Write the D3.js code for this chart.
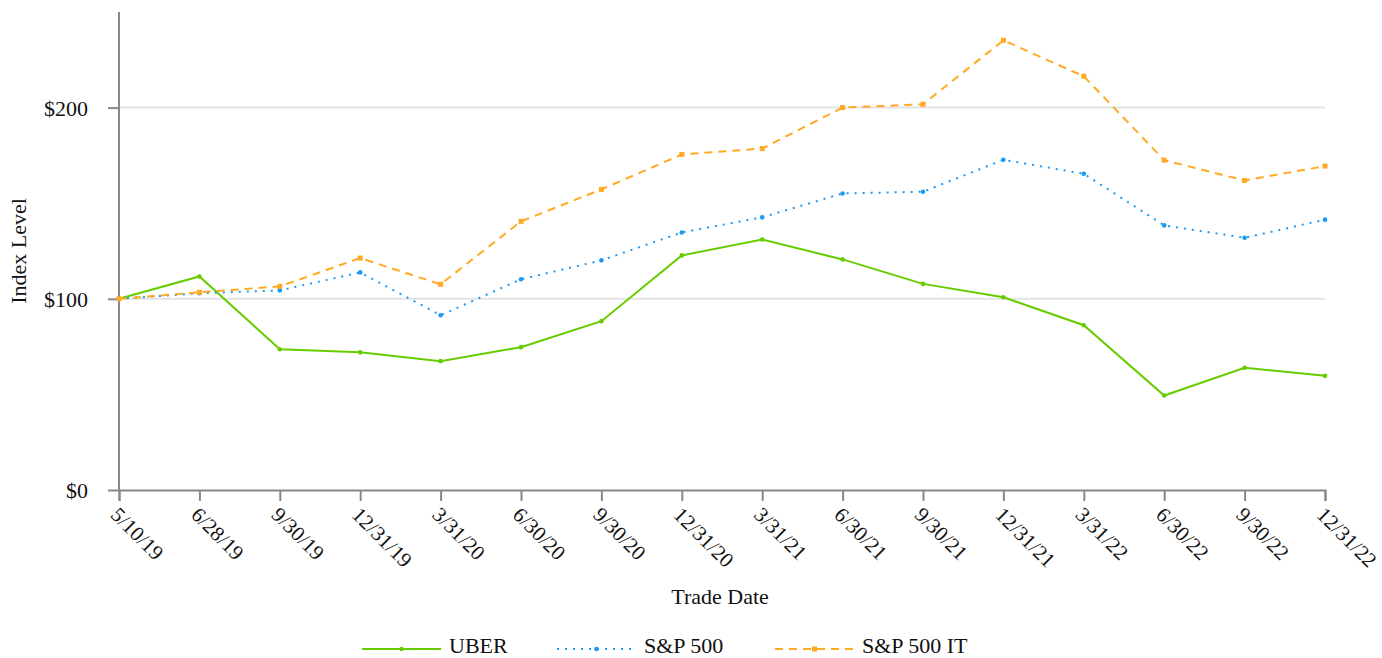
<!DOCTYPE html>
<html>
<head>
<meta charset="utf-8">
<script src="https://cdn.jsdelivr.net/npm/d3@7"></script>
<style>
  body { margin: 0; background: #fff; }
  svg text { font-family: "Liberation Serif", "Times New Roman", serif; fill: #111; }
</style>
</head>
<body>
<div id="chart"></div>
<script>
var dates = ["5/10/19", "6/28/19", "9/30/19", "12/31/19", "3/31/20", "6/30/20", "9/30/20", "12/31/20",
             "3/31/21", "6/30/21", "9/30/21", "12/31/21", "3/31/22", "6/30/22", "9/30/22", "12/31/22"];
var uber  = [100, 111.7, 73.6, 72.0, 67.4, 74.7, 88.3, 122.7, 131.0, 120.6, 107.8, 100.8, 86.2, 49.4, 63.9, 59.7];
var sp500 = [100, 102.9, 104.4, 113.8, 91.4, 110.2, 120.1, 134.7, 142.6, 155.1, 156.0, 172.7, 165.4, 138.4, 131.9, 141.4];
var spIT  = [100, 103.4, 106.5, 121.3, 107.6, 140.5, 157.2, 175.5, 178.6, 200.0, 201.7, 235.2, 216.4, 172.5, 161.9, 169.4];
var yTicks = [0, 100, 200];

var series = [
  {name: "UBER", values: uber, color: "#66cc00", dash: null, marker: "circle"},
  {name: "S&P 500", values: sp500, color: "#1a9af5", dash: "2,6", marker: "circle"},
  {name: "S&P 500 IT", values: spIT, color: "#ffaa22", dash: "8,6", marker: "square"}
];

var W = 1382, H = 658;
var margin = {top: 12, right: 57, bottom: 168, left: 119},
    width = W - margin.left - margin.right,
    height = H - margin.top - margin.bottom;

var svg = d3.select("#chart").append("svg")
    .attr("width", W)
    .attr("height", H);

var g = svg.append("g")
    .attr("transform", "translate(" + margin.left + "," + margin.top + ")");

var x = d3.scalePoint().domain(dates).range([0, width]);
var y = d3.scaleLinear().domain([0, 250]).range([height, 0]);

// gridlines
g.selectAll(".grid").data(yTicks.filter(function(d) { return d > 0; }))
  .enter().append("line")
    .attr("x1", 0).attr("x2", width)
    .attr("y1", function(d) { return y(d); })
    .attr("y2", function(d) { return y(d); })
    .style("stroke", "#e3e3e3")
    .style("stroke-width", 2);

var yAxis = d3.axisLeft(y).tickValues(yTicks).tickFormat(function(d) { return "$" + d; })
    .tickSizeOuter(0).tickSize(11).tickPadding(20);
var xAxis = d3.axisBottom(x).tickSizeOuter(0).tickSize(11);

var ya = g.append("g").call(yAxis);
ya.select(".domain").remove();
ya.append("line").attr("x1", 0).attr("x2", 0).attr("y1", 0).attr("y2", height)
  .style("stroke", "#888").style("stroke-width", 2);
ya.selectAll(".tick line").style("stroke", "#888").style("stroke-width", 2);
ya.selectAll(".tick text").style("font-size", "22px").style("font-family", "Liberation Serif").style("fill", "#111")
  .attr("dy", "0.35em");

var xa = g.append("g")
    .attr("transform", "translate(0," + height + ")")
    .call(xAxis);
xa.select(".domain").style("stroke", "#888").style("stroke-width", 2);
xa.selectAll(".tick line").style("stroke", "#888").style("stroke-width", 2);
xa.selectAll(".tick text")
    .style("font-size", "21px").style("font-family", "Liberation Serif").style("fill", "#111")
    .attr("text-anchor", "start")
    .attr("dy", "0")
    .attr("y", 0)
    .attr("transform", "translate(-10,26) rotate(45)");

// lines
var line = d3.line()
    .x(function(d, i) { return x(dates[i]); })
    .y(function(d) { return y(d); });

series.forEach(function(s) {
  g.append("path")
    .datum(s.values)
    .attr("d", line)
    .style("fill", "none")
    .style("stroke", s.color)
    .style("stroke-width", 2)
    .style("stroke-dasharray", s.dash);

  if (s.marker === "square") {
    g.selectAll(null).data(s.values).enter().append("rect")
      .attr("x", function(d, i) { return x(dates[i]) - 2.5; })
      .attr("y", function(d) { return y(d) - 2.5; })
      .attr("width", 5).attr("height", 5)
      .style("fill", s.color);
  } else {
    g.selectAll(null).data(s.values).enter().append("circle")
      .attr("cx", function(d, i) { return x(dates[i]); })
      .attr("cy", function(d) { return y(d); })
      .attr("r", 2.3)
      .style("fill", s.color);
  }
});

// axis titles
svg.append("text")
    .attr("transform", "translate(26," + (margin.top + y(125)) + ") rotate(-90)")
    .attr("text-anchor", "middle")
    .style("font-size", "22px")
    .text("Index Level");

svg.append("text")
    .attr("x", 720).attr("y", 604)
    .attr("text-anchor", "middle")
    .style("font-size", "22px")
    .text("Trade Date");

// legend
var legendX = [362, 557, 775];
var legend = svg.append("g").attr("transform", "translate(0,649)");
series.forEach(function(s, i) {
  var lx = legendX[i];
  legend.append("line")
    .attr("x1", lx).attr("x2", lx + 79).attr("y1", 0).attr("y2", 0)
    .style("stroke", s.color).style("stroke-width", 2)
    .style("stroke-dasharray", s.dash);
  if (s.marker === "square") {
    legend.append("rect").attr("x", lx + 37).attr("y", -2.5).attr("width", 5).attr("height", 5).style("fill", s.color);
  } else {
    legend.append("circle").attr("cx", lx + 39.5).attr("cy", 0).attr("r", 2.3).style("fill", s.color);
  }
  legend.append("text")
    .attr("x", lx + 87).attr("y", 4)
    .style("font-size", "22px")
    .text(s.name);
});
</script>
</body>
</html>
